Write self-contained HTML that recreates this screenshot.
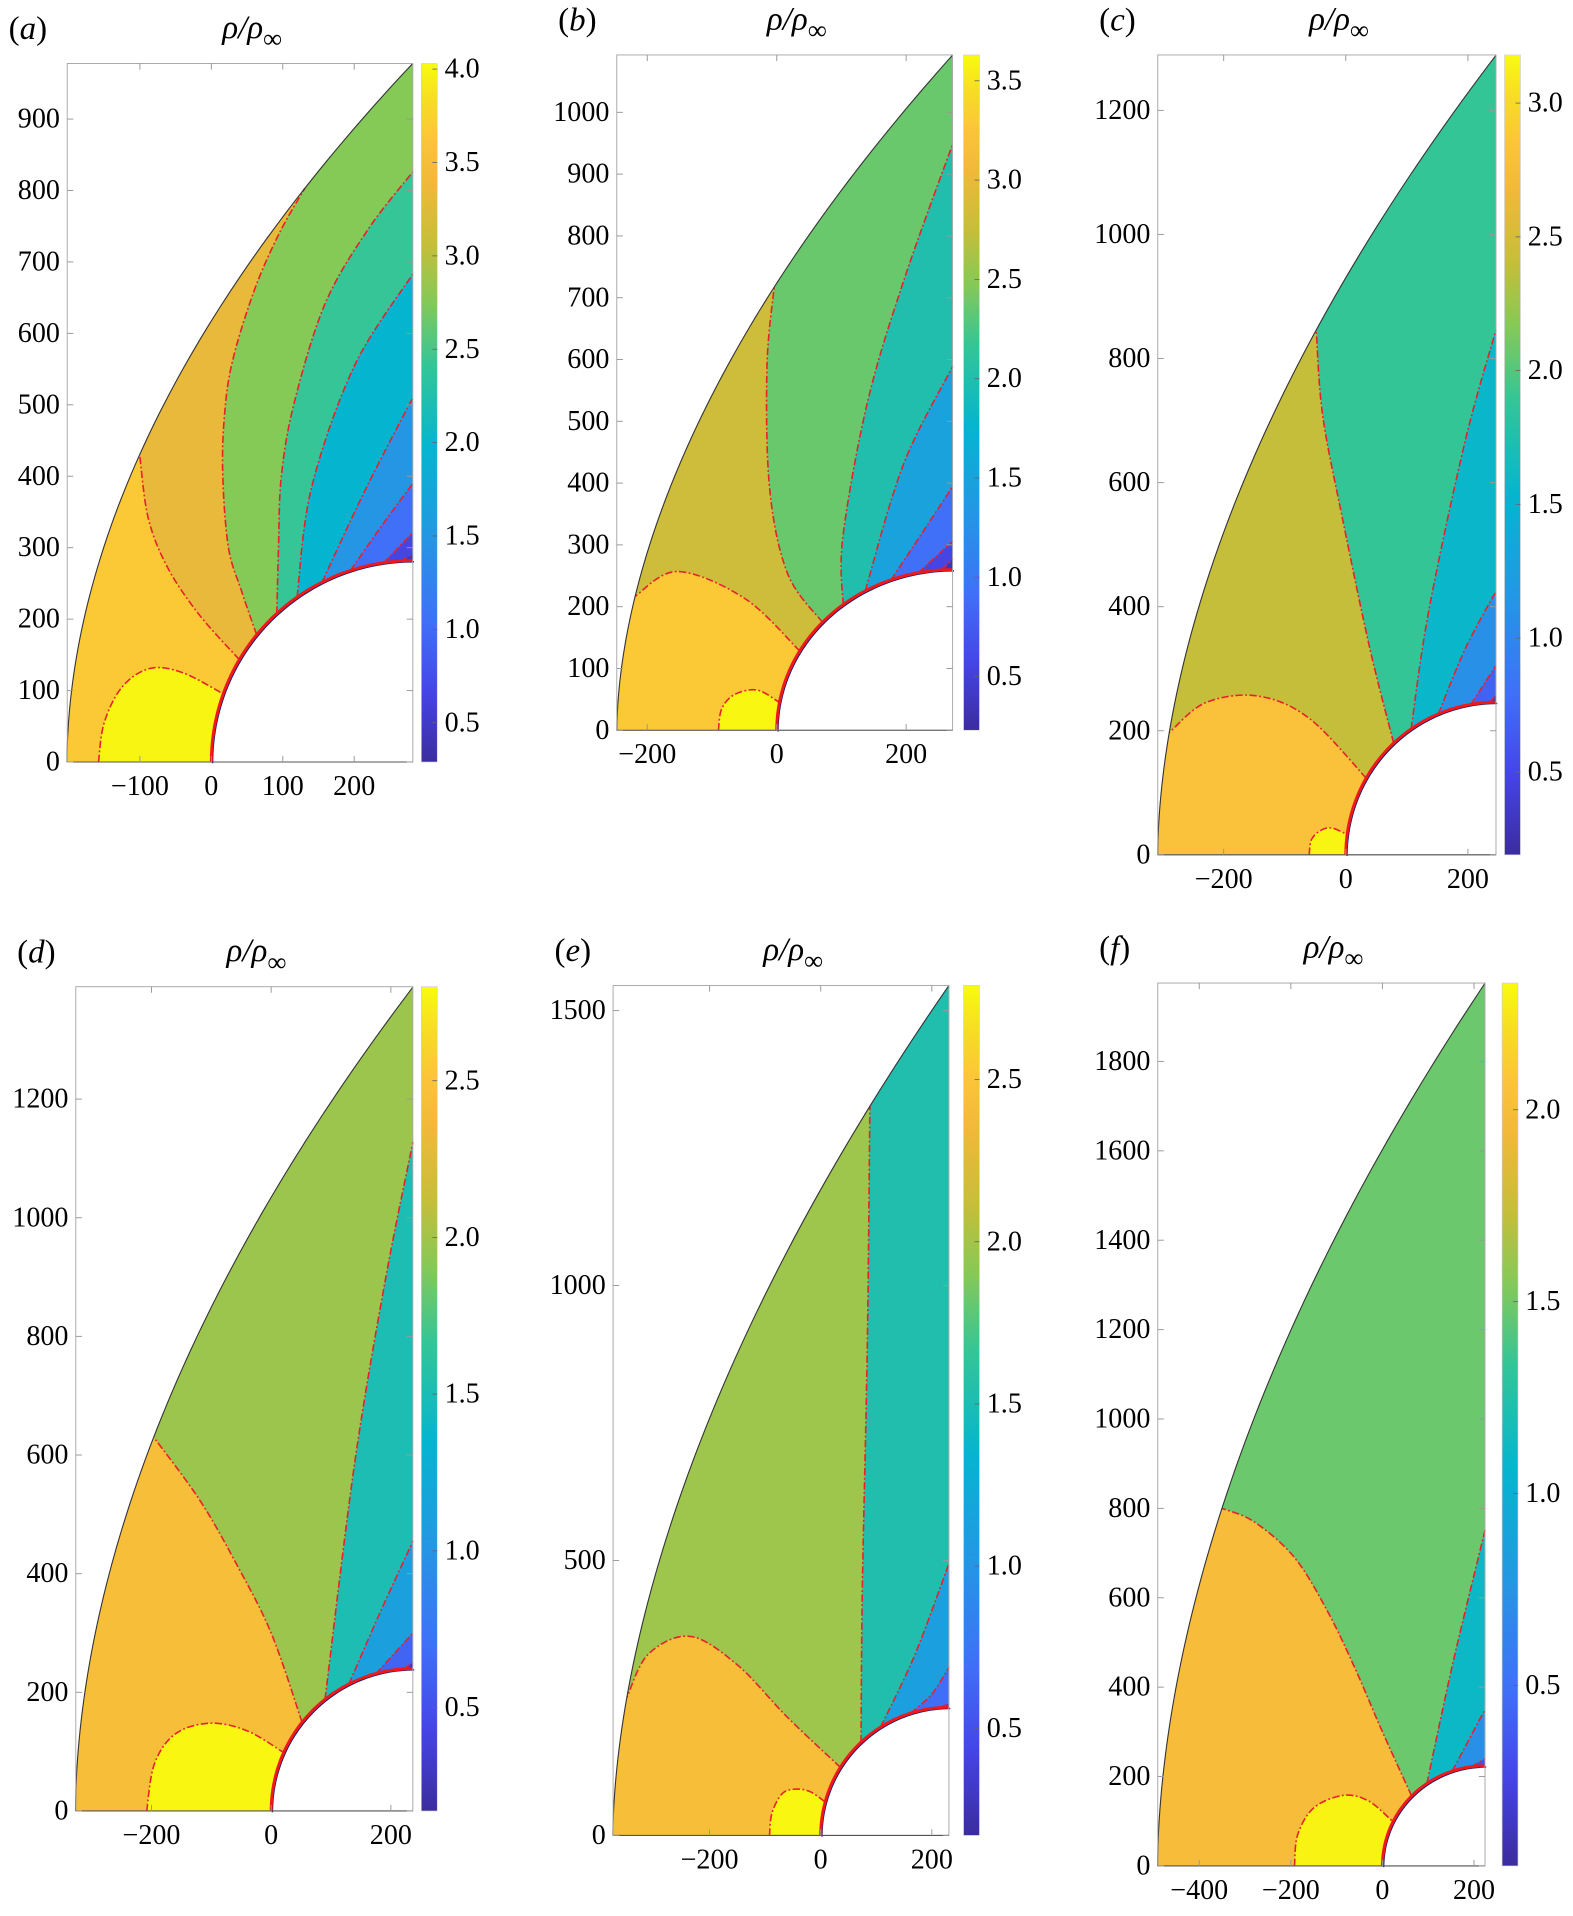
<!DOCTYPE html>
<html><head><meta charset="utf-8"><style>
html,body{margin:0;padding:0;background:#fff;}
svg{display:block;font-family:"Liberation Serif","DejaVu Serif",serif;}
text{font-family:"Liberation Serif","DejaVu Serif",serif;}
</style></head><body>
<svg id="fig" width="1573" height="1916" viewBox="0 0 1288 1569" font-family="Liberation Serif, serif" xmlns="http://www.w3.org/2000/svg"></svg>
<script>
// ---------- data ----------
// panel (a)
const aYTicks=[0,100,200,300,400,500,600,700,800,900];
const aXTicks=[-100,0,100,200];
const aCbTicks=[0.5,1.0,1.5,2.0,2.5,3.0,3.5,4.0];
const aValues=[3.66,3.32,2.76,2.42,1.97,1.49,1.04,0.66,0.45];
const aBubble=[[-158,0],[-150,55],[-125,105],[-86,131],[-40,125],[12,97]];
const aBubbleValue=3.99;
const aBounds=[
 {e:'S',p:[[33,147],[-16,205],[-60,270],[-88,340],[-100,430]]},
 {e:'S',p:[[60,181],[42,240],[24,300],[16,400],[18,480],[29,559],[60,660],[95,740],[129,803]]},
 {e:'R',p:[[88,212],[94,300],[98,400],[116,503],[159,641],[219,745],[282,826]]},
 {e:'R',p:[[120,231],[140,383],[200,554],[282,683]]},
 {e:'R',p:[[155,252],[215,380],[282,510]]},
 {e:'R',p:[[194,271],[238,330],[282,390]]},
 {e:'R',p:[[241,280],[282,321]]},
 {e:'R',p:[[265,281],[282,291]]}];
// panel (b)
const bYTicks=[0,100,200,300,400,500,600,700,800,900,1000];
const bXTicks=[-200,0,200];
const bCbTicks=[0.5,1.0,1.5,2.0,2.5,3.0,3.5];
const bValues=[3.29,2.81,2.37,2.0,1.49,0.91,0.57,0.33];
const bBubble=[[-90,0],[-85,35],[-65,58],[-30,65],[4,45]];
const bBubbleValue=3.6;
const bBounds=[
 {e:'S',p:[[36,128],[-49,213],[-153,257],[-223,217]]},
 {e:'S',p:[[60,184],[17,253],[-11,391],[-15,589],[-4,717]]},
 {e:'R',p:[[98,209],[102,312],[140,530],[196,727],[272,949]]},
 {e:'R',p:[[136,227],[196,431],[272,589]]},
 {e:'R',p:[[177,243],[225,320],[272,395]]},
 {e:'R',p:[[219,253],[272,306]]},
 {e:'R',p:[[255,259],[272,277]]}];
// panel (c)
const cYTicks=[0,200,400,600,800,1000,1200];
const cXTicks=[-200,0,200];
const cCbTicks=[0.5,1.0,1.5,2.0,2.5,3.0];
const cValues=[2.82,2.40,1.89,1.57,1.09,0.70,0.34];
const cBubble=[[-60,0],[-56,25],[-40,40],[-22,43],[1,33]];
const cBubbleValue=3.15;
const cBounds=[
 {e:'S',p:[[26,128],[-60,220],[-144,256],[-230,245],[-300,197]]},
 {e:'S',p:[[60,200],[40,330],[-5,540],[-38,709],[-48,846]]},
 {e:'R',p:[[100,213],[136,394],[196,669],[246,846]]},
 {e:'R',p:[[152,226],[196,333],[246,425]]},
 {e:'R',p:[[206,236],[246,305]]},
 {e:'R',p:[[236,245],[246,258]]}];
// panel (d)
const dYTicks=[0,200,400,600,800,1000,1200];
const dXTicks=[-200,0,200];
const dCbTicks=[0.5,1.0,1.5,2.0,2.5];
const dValues=[2.43,1.98,1.51,1.12,0.62,0.30];
const dBubble=[[-208,0],[-195,80],[-160,130],[-102,148],[-40,135],[20,99]];
const dBubbleValue=2.78;
const dBounds=[
 {e:'S',p:[[51,150],[0,300],[-60,420],[-120,525],[-196,630]]},
 {e:'R',p:[[88,191],[139,583],[190,891],[237,1128]]},
 {e:'R',p:[[129,216],[180,330],[237,455]]},
 {e:'R',p:[[176,228],[237,300]]},
 {e:'R',p:[[221,240],[237,250]]}];
// panel (e)
const eYTicks=[0,500,1000,1500];
const eXTicks=[-200,0,200];
const eCbTicks=[0.5,1.0,1.5,2.0,2.5];
const eValues=[2.42,1.98,1.53,1.11,0.69,0.38];
const eBubble=[[-92,0],[-88,40],[-70,75],[-48,84],[-20,80],[4,62]];
const eBubbleValue=2.77;
const eBounds=[
 {e:'S',p:[[35,124],[-60,215],[-150,310],[-235,362],[-310,330],[-350,251]]},
 {e:'S',p:[[75,167],[75,451],[84,895],[90,1326]]},
 {e:'R',p:[[116,184],[170,330],[231,495]]},
 {e:'R',p:[[167,207],[200,257],[231,306]]},
 {e:'R',p:[[215,225],[231,240]]}];
// panel (f)
const fYTicks=[0,200,400,600,800,1000,1200,1400,1600,1800];
const fXTicks=[-400,-200,0,200];
const fCbTicks=[0.5,1.0,1.5,2.0];
const fValues=[1.99,1.48,1.11,0.72,0.31];
const fBubble=[[-192,0],[-185,70],[-150,130],[-85,158],[-30,145],[13,104]];
const fBubbleValue=2.3;
const fBounds=[
 {e:'S',p:[[48,172],[0,300],[-59,440],[-120,570],[-192,690],[-280,770],[-352,800]]},
 {e:'R',p:[[96,186],[155,459],[224,751]]},
 {e:'R',p:[[155,205],[224,350]]},
 {e:'R',p:[[195,215],[224,240]]}];

// ---------- rendering ----------
const NS='http://www.w3.org/2000/svg';
const svg=document.getElementById('fig');
const stops=[[0,'#3B2C9E'],[0.1,'#4545E6'],[0.2,'#3F70F7'],[0.32,'#2596E4'],[0.45,'#05B5CF'],[0.57,'#35C596'],[0.66,'#85C957'],[0.74,'#C5BE3A'],[0.83,'#F2B83A'],[0.89,'#FCC43A'],[0.95,'#F7DE22'],[1,'#F9FB0E']];
function hx(h){return [1,3,5].map(i=>parseInt(h.substr(i,2),16));}
function cmap(f){f=Math.max(0,Math.min(1,f));for(let i=1;i<stops.length;i++){if(f<=stops[i][0]){const a=stops[i-1],b=stops[i];const t=(f-a[0])/(b[0]-a[0]);const ca=hx(a[1]),cb=hx(b[1]);return 'rgb('+ca.map((v,k)=>Math.round(v+(cb[k]-v)*t)).join(',')+')';}}return stops[stops.length-1][1];}
function mk(tag,attrs,parent){const e=document.createElementNS(NS,tag);for(const k in attrs)e.setAttribute(k,attrs[k]);(parent||svg).appendChild(e);return e;}
function cr(pts){let d='M'+pts[0][0].toFixed(1)+','+pts[0][1].toFixed(1);for(let i=0;i<pts.length-1;i++){const p0=pts[i-1]||pts[i],p1=pts[i],p2=pts[i+1],p3=pts[i+2]||p2;const c1=[p1[0]+(p2[0]-p0[0])/6,p1[1]+(p2[1]-p0[1])/6],c2=[p2[0]-(p3[0]-p1[0])/6,p2[1]-(p3[1]-p1[1])/6];d+='C'+c1.map(v=>v.toFixed(1))+' '+c2.map(v=>v.toFixed(1))+' '+p2.map(v=>v.toFixed(1));}return d;}

const panels=[
 {id:'a',l:55,r:338,t:52,b:624,ox:173,sx:0.585,sy:0.585,x0:-202,xr:282,top:978,ry:282,p:1.9,lo:0.29,hi:4.03,cbx:345,ticks:[aXTicks,aYTicks,aCbTicks],vals:aValues,bub:aBubble,bv:aBubbleValue,bounds:aBounds},
 {id:'b',l:505,r:780,t:45,b:598,ox:636,sx:0.53,sy:0.506,x0:-247,xr:272,top:1093,ry:260,p:1.8,lo:0.23,hi:3.63,cbx:789,ticks:[bXTicks,bYTicks,bCbTicks],vals:bValues,bub:bBubble,bv:bBubbleValue,bounds:bBounds},
 {id:'c',l:948,r:1225,t:45,b:700,ox:1102,sx:0.5,sy:0.508,x0:-308,xr:246,top:1289,ry:246,p:1.8,lo:0.19,hi:3.18,cbx:1232,ticks:[cXTicks,cYTicks,cCbTicks],vals:cValues,bub:cBubble,bv:cBubbleValue,bounds:cBounds},
 {id:'d',l:62,r:338,t:808,b:1483,ox:222,sx:0.49,sy:0.4858,x0:-327,xr:237,top:1389,ry:240,p:1.85,lo:0.17,hi:2.80,cbx:345,ticks:[dXTicks,dYTicks,dCbTicks],vals:dValues,bub:dBubble,bv:dBubbleValue,bounds:dBounds},
 {id:'e',l:502,r:777,t:807,b:1503,ox:672,sx:0.455,sy:0.4503,x0:-374,xr:231,top:1546,ry:233,p:1.75,lo:0.17,hi:2.79,cbx:789,ticks:[eXTicks,eYTicks,eCbTicks],vals:eValues,bub:eBubble,bv:eBubbleValue,bounds:eBounds},
 {id:'f',l:948,r:1216,t:805,b:1528,ox:1132,sx:0.375,sy:0.366,x0:-491,xr:224,top:1975,ry:224,p:1.8,lo:0.03,hi:2.33,cbx:1230,ticks:[fXTicks,fYTicks,fCbTicks],vals:fValues,bub:fBubble,bv:fBubbleValue,bounds:fBounds}
];

panels.forEach(P=>{
 const X=x=>P.ox+P.sx*x, Y=y=>P.b-P.sy*y;
 const shockX=y=>P.x0+(P.xr-P.x0)*Math.pow(Math.max(0,y)/P.top,P.p);
 const snapCyl=q=>{const t=Math.atan2(q[1]/P.ry,(P.xr-q[0])/P.xr);return [P.xr-P.xr*Math.cos(t),P.ry*Math.sin(t)];};
 const col=v=>cmap((v-P.lo)/(P.hi-P.lo));
 const g=mk('g',{});
 
 
 const shockPts=[];for(let i=0;i<=80;i++){const y=P.top*i/80;shockPts.push([X(shockX(y)),Y(y)]);}
 const cylPts=[];for(let i=0;i<=60;i++){const t=Math.PI/2*(1-i/60);cylPts.push([X(P.xr-P.xr*Math.cos(t)),Y(P.ry*Math.sin(t))]);}
 const dom=shockPts.concat([[X(P.xr),Y(P.ry)]]).concat(cylPts);
 const cp=mk('clipPath',{id:'clip-'+P.id},g);
 mk('polygon',{points:dom.map(p=>p.join(',')).join(' ')},cp);
 const fillG=mk('g',{'clip-path':'url(#clip-'+P.id+')'},g);
 const base=mk('polygon',{points:dom.map(p=>p.join(',')).join(' '),fill:col(P.vals[0])},fillG);
 
 
 // bubble
 const bd=P.bub.map(q=>q.slice());
 bd[bd.length-1]=snapCyl(bd[bd.length-1]);
 const bp=bd.map(q=>[X(q[0]),Y(q[1])]);
 const last=bd[bd.length-1];
 const bfill=mk('path',{d:cr(bp)+' L'+X(last[0]+60)+','+Y(-5)+' L'+X(bd[0][0])+','+Y(-5)+'Z',fill:col(P.bv)},fillG);
 
 
 const linesData=[];
 P.bounds.forEach((B,i)=>{
  const pts=B.p.map(q=>q.slice());
  pts[0]=snapCyl(pts[0]);
  if(B.e==='S'){const l=pts[pts.length-1];l[0]=shockX(l[1]);}
  else{pts[pts.length-1][0]=P.xr;}
  const pp=pts.map(q=>[X(q[0]),Y(q[1])]);
  const end=pts[pts.length-1];
  let tail;
  if(B.e==='S') tail=' L'+X(end[0])+','+Y(P.top+400)+' L'+X(P.xr+60)+','+Y(P.top+400)+' L'+X(P.xr+60)+','+Y(-10)+'Z';
  else tail=' L'+X(P.xr+60)+','+Y(end[1])+' L'+X(P.xr+60)+','+Y(-10)+'Z';
  const r=mk('path',{d:cr(pp)+tail,fill:col(P.vals[i+1])},fillG);
  
  
  linesData.push(pp);
 });
 const lineG=mk('g',{fill:'none',stroke:'#E8202A','stroke-width':1.3,'stroke-dasharray':'6 2 1.5 2'},g);
 const bl=mk('path',{d:cr(bp)},lineG);
 
 
 linesData.forEach((pp,i)=>{const l=mk('path',{d:cr(pp)},lineG);
  
  });
 const sh=mk('polyline',{points:shockPts.map(p=>p.join(',')).join(' '),fill:'none',stroke:'#333','stroke-width':0.9},g);
 
 
 mk('polyline',{points:cylPts.map(p=>p.join(',')).join(' '),fill:'none',stroke:'#1a1a6a','stroke-width':1.2,transform:'translate(1,1)'},g);
 const cy=mk('polyline',{points:cylPts.map(p=>p.join(',')).join(' '),fill:'none',stroke:'#F01818','stroke-width':2.4},g);
 
 
 const fr=mk('rect',{x:P.l,y:P.t,width:P.r-P.l,height:P.b-P.t,fill:'none',stroke:'#aaa','stroke-width':0.8},g);
 
 
 mk('line',{x1:P.l,y1:P.b,x2:P.r,y2:P.b,stroke:'#555','stroke-width':0.9},g);
 P.ticks[0].forEach(v=>{const x=X(v);
  mk('line',{x1:x,y1:P.b,x2:x,y2:P.b-5,stroke:'#999','stroke-width':0.8},g);
  mk('line',{x1:x,y1:P.t,x2:x,y2:P.t+5,stroke:'#999','stroke-width':0.8},g);
  const t=mk('text',{x:x,y:P.b+27,'font-size':23,'text-anchor':'middle','font-family':'Liberation Serif, serif'},g);
  t.textContent=v<0?'\u2212'+(-v):String(v);
  
  });
 P.ticks[1].forEach(v=>{const y=Y(v);
  mk('line',{x1:P.l,y1:y,x2:P.l+5,y2:y,stroke:'#999','stroke-width':0.8},g);
  mk('line',{x1:P.r,y1:y,x2:P.r-5,y2:y,stroke:'#999','stroke-width':0.8},g);
  const t=mk('text',{x:P.l-6,y:y+7,'font-size':23,'text-anchor':'end','font-family':'Liberation Serif, serif'},g);
  t.textContent=String(v);
  
  });
 const gid='grad-'+P.id;
 const lg=mk('linearGradient',{id:gid,x1:0,y1:1,x2:0,y2:0},g);
 stops.forEach(s=>mk('stop',{offset:s[0],'stop-color':s[1]},lg));
 const cb=mk('rect',{x:P.cbx,y:P.t,width:13,height:P.b-P.t,fill:'url(#'+gid+')',stroke:'#ccc','stroke-width':0.5},g);
 
 
 const CY=v=>P.b-(v-P.lo)/(P.hi-P.lo)*(P.b-P.t);
 P.ticks[2].forEach(v=>{const y=CY(v);
  mk('line',{x1:P.cbx+13,y1:y,x2:P.cbx+9,y2:y,stroke:'#666','stroke-width':0.7},g);
  const t=mk('text',{x:P.cbx+19,y:y+7,'font-size':23,'font-family':'Liberation Serif, serif'},g);
  t.textContent=v.toFixed(1);
  
  });
 const cx=(P.l+P.r)/2+10;
 const tt=mk('text',{x:cx,y:P.t-21,'font-size':27,'text-anchor':'middle','font-style':'italic','font-family':'Liberation Serif, serif'},g);
 
 
 tt.innerHTML='\u03C1/\u03C1<tspan font-style="normal" font-size="22" dy="8">\u221E</tspan>';
 const lb=mk('text',{x:P.l-48,y:P.t-20,'font-size':27,'font-family':'Liberation Serif, serif'},g);
 
 
 lb.innerHTML='(<tspan font-style="italic">'+P.id+'</tspan>)';
});
</script>
</body></html>
